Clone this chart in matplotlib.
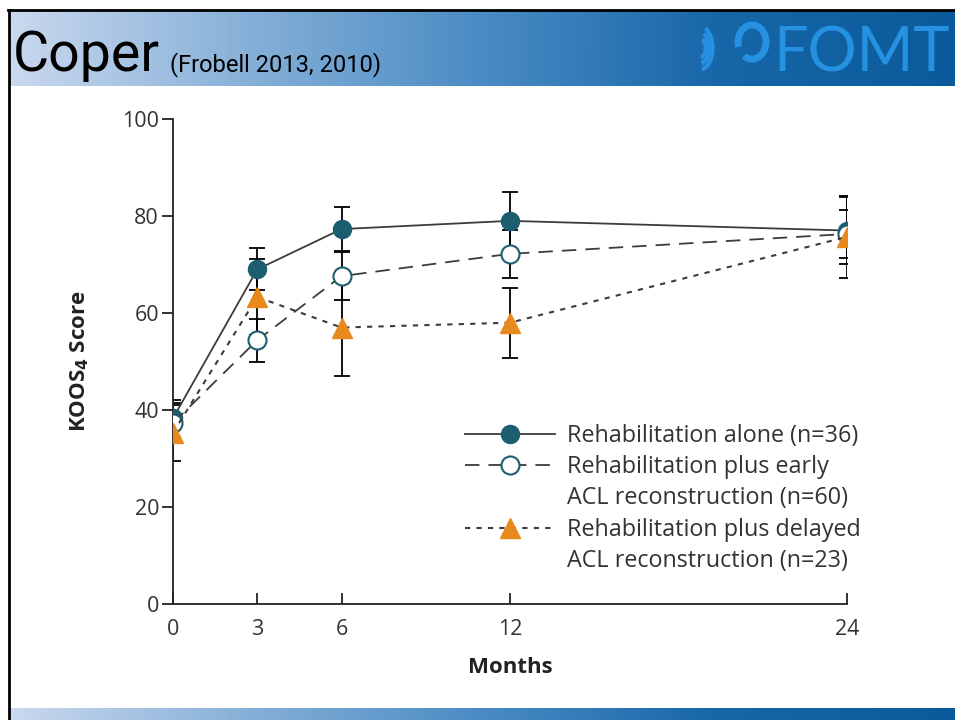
import numpy as np
import matplotlib
matplotlib.use("Agg")
import matplotlib.pyplot as plt
from matplotlib.lines import Line2D
from matplotlib.colors import LinearSegmentedColormap
from matplotlib.patches import Arc


# data (KOOS4 score, mean and error bar half width)
months = [0, 3, 6, 12, 24]
rehab_alone = [38.3, 69.0, 77.3, 79.0, 77.0]
rehab_alone_err = [3.8, 4.3, 4.5, 6.0, 7.0]
early_acl = [37.3, 54.4, 67.6, 72.2, 76.3]
early_acl_err = [4.2, 4.4, 4.9, 5.0, 5.0]
delayed_acl = [35.3, 63.3, 57.0, 58.0, 75.7]
delayed_acl_err = [5.8, 7.8, 10.0, 7.2, 8.5]

series_labels = [
    "Rehabilitation alone (n=36)",
    "Rehabilitation plus early\nACL reconstruction (n=60)",
    "Rehabilitation plus delayed\nACL reconstruction (n=23)",
]
x_ticks = [0, 3, 6, 12, 24]
y_ticks = [0, 20, 40, 60, 80, 100]

TEAL = "#1d5d70"
ORANGE = "#e8891e"
LINE = "#3c3c3c"
TXT = "#333333"

plt.rcParams['font.family'] = ['Open Sans', 'DejaVu Sans']

W, H = 955, 720
fig = plt.figure(figsize=(W / 100, H / 100), dpi=100)
fig.patch.set_facecolor("white")

# slide decoration in pixel coordinates
deco = fig.add_axes([0, 0, 1, 1])
deco.patch.set_visible(False)
grad = np.linspace(0, 1, 400).reshape(1, -1)
cmap = LinearSegmentedColormap.from_list(
    "hdr", ["#c9d8ee", "#86b0d8", "#4a8bc4", "#1766a8", "#0a5a9c"])
deco.imshow(grad, cmap=cmap, extent=[10, W, 86, 11], aspect="auto")
deco.imshow(grad, cmap=cmap, extent=[10, W, H, 708], aspect="auto")
deco.plot([8, W], [10, 10], color="black", lw=2)
deco.plot([8.5, 8.5], [10, H], color="black", lw=2)
deco.set_xlim(0, W)
deco.set_ylim(H, 0)
deco.axis("off")

deco.text(13, 71, "Coper", fontsize=40, color="black", va="baseline",
          family=['Roboto', 'DejaVu Sans'])
deco.text(170, 71, "(Frobell 2013, 2010)", fontsize=17, color="black",
          va="baseline", family=['Roboto', 'DejaVu Sans'])

LOGO = "#2691e0"
deco.text(773, 72, "FOMT", fontsize=44, color=LOGO, va="baseline",
          family=['Lato', 'DejaVu Sans'])
for r in [8, 13, 18]:
    deco.add_patch(Arc((700, 48), r * 1.4, r * 2.4, theta1=-75, theta2=85,
                       color=LOGO, lw=3))
deco.add_patch(Arc((752, 42), 28, 34, theta1=-200, theta2=120, color=LOGO, lw=5))

# chart
ax = fig.add_axes([173 / W, 116 / H, 674 / W, 485 / H])

ax.errorbar(months, rehab_alone, yerr=rehab_alone_err, fmt="none",
            ecolor="black", elinewidth=1.3, capsize=6, capthick=1.3, zorder=2)
ax.errorbar(months, early_acl, yerr=early_acl_err, fmt="none",
            ecolor="black", elinewidth=1.3, capsize=6, capthick=1.3, zorder=2)
ax.errorbar(months, delayed_acl, yerr=delayed_acl_err, fmt="none",
            ecolor="black", elinewidth=1.3, capsize=6, capthick=1.3, zorder=2)

styles = [
    dict(color=LINE, lw=1.3, ls="-", marker="o", ms=13,
         mfc=TEAL, mec=TEAL),
    dict(color=LINE, lw=1.3, ls=(0, (8, 5)), marker="o", ms=13,
         mfc="white", mec=TEAL, mew=1.5),
    dict(color=LINE, lw=1.5, ls=(0, (2.5, 3)), marker="^", ms=14,
         mfc=ORANGE, mec=ORANGE),
]
for vals, st in zip([rehab_alone, early_acl, delayed_acl], styles):
    ax.plot(months, vals, zorder=3, **st)

ax.set_xlim(0, 24)
ax.set_ylim(0, 100)
ax.set_xticks(x_ticks)
ax.set_yticks(y_ticks)
ax.spines["top"].set_visible(False)
ax.spines["right"].set_visible(False)
for s in ["left", "bottom"]:
    ax.spines[s].set_linewidth(1.3)
    ax.spines[s].set_color("#222222")
ax.tick_params(axis="y", direction="out", length=8, width=1.3, pad=2,
               labelsize=15.5, labelcolor=TXT, color="#222222")
ax.tick_params(axis="x", direction="in", length=8, width=1.3, pad=11,
               labelsize=15.5, labelcolor=TXT, color="#222222")

ax.set_ylabel(r"KOOS$_\mathbf{4}$ Score", fontsize=16, fontweight="bold",
              color="#222222")
ax.yaxis.set_label_coords(-0.122, 0.5)
ax.set_xlabel("Months", fontsize=16, fontweight="bold", color="#222222")
ax.xaxis.set_label_coords(0.5, -0.11)

# one legend row per text line, handle on the first line of each label
handles, rows = [], []
for lab, st in zip(series_labels, styles):
    for i, line in enumerate(lab.split("\n")):
        handles.append(Line2D([], [], **st) if i == 0
                       else Line2D([], [], ls="none"))
        rows.append(line)
leg = ax.legend(handles, rows, loc="upper left",
                bbox_to_anchor=(465 / W, (H - 424) / H),
                bbox_transform=fig.transFigure, frameon=False, fontsize=16.8,
                handlelength=3.85, handletextpad=0.5, labelspacing=0.31,
                borderpad=0, borderaxespad=0)
for t in leg.get_texts():
    t.set_color(TXT)

fig.savefig("out.png", dpi=100)
